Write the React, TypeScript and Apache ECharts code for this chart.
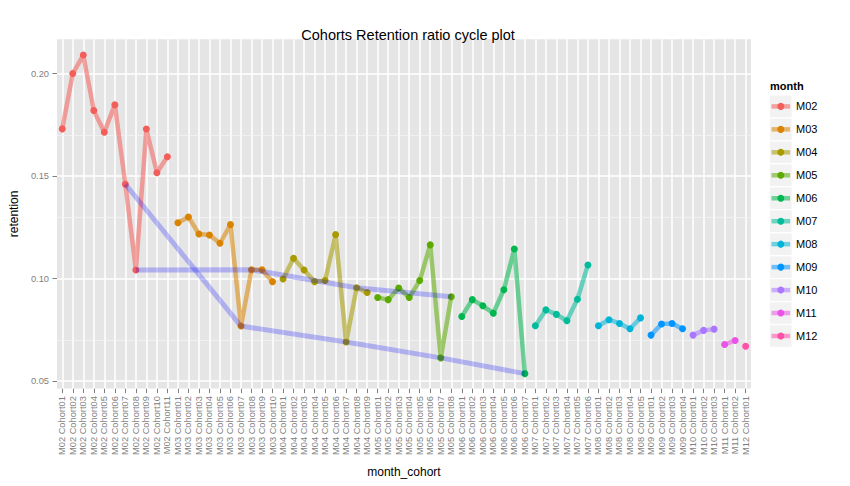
import React, { useEffect, useRef } from "react";
import * as echarts from "echarts";

const months = ["M02", "M03", "M04", "M05", "M06", "M07", "M08", "M09", "M10", "M11", "M12"];

const M02 = [0.173, 0.2, 0.209, 0.182, 0.1714, 0.1847, 0.146, 0.1042, 0.1729, 0.1516, 0.1594];
const M03 = [0.1272, 0.13, 0.1217, 0.1212, 0.1172, 0.1263, 0.0768, 0.1043, 0.1043, 0.0984];
const M04 = [0.0998, 0.1099, 0.1042, 0.0985, 0.099, 0.1214, 0.069, 0.0955, 0.0932];
const M05 = [0.0907, 0.0897, 0.0954, 0.0907, 0.099, 0.1164, 0.0613, 0.0911];
const M06 = [0.0815, 0.0897, 0.0867, 0.0831, 0.0945, 0.1144, 0.0536];
const M07 = [0.077, 0.0847, 0.0825, 0.0794, 0.0899, 0.1066];
const M08 = [0.077, 0.0799, 0.0781, 0.0755, 0.0808];
const M09 = [0.0724, 0.0778, 0.0781, 0.0755];
const M10 = [0.0724, 0.0747, 0.0753];
const M11 = [0.0678, 0.0698];
const M12 = [0.067];

const monthValues = [M02, M03, M04, M05, M06, M07, M08, M09, M10, M11, M12];

const colors = [
  "#F35E5A", "#D98300", "#A89B00", "#5BAA00", "#00B64E", "#00BC9A",
  "#00B4D8", "#0095FF", "#AB77FF", "#EA54E6", "#FF4FA8",
];

// cohorts highlighted across months (Cohort07, Cohort08)
const highlightCohorts = [7, 8];

const yTicks = [0.05, 0.1, 0.15, 0.2];
const yMinorTicks = [0.075, 0.125, 0.175];
const yMin = 0.0463;
const yMax = 0.2167;

const pad = (n: number) => (n < 10 ? "0" + n : "" + n);
const catName = (m: string, i: number) => `${m} Cohort${pad(i + 1)}`;

const categories: string[] = [];
months.forEach((m, mi) => monthValues[mi].forEach((_, i) => categories.push(catName(m, i))));

const FONT = "'Liberation Sans', Arial, Helvetica, sans-serif";

export default function App() {
  const ref = useRef<HTMLDivElement>(null);
  useEffect(() => {
    if (!ref.current) return;
    const chart = echarts.init(ref.current, undefined, { renderer: "svg" });

    const gridLeft = 55.3;
    const gridWidth = 695.6;
    const gridTop = 39.3;
    const gridBottom = 97.4;

    const monthSeries = months.map((m, mi) => ({
      type: "line",
      name: m,
      z: 3,
      data: monthValues[mi].map((v, i) => [catName(m, i), v]),
      symbol: "circle",
      symbolSize: 7,
      itemStyle: { color: colors[mi], opacity: 1 },
      lineStyle: { color: colors[mi], width: 4.5, opacity: 0.55 },
      emphasis: { disabled: true },
      silent: true,
    }));

    const blueSeries = highlightCohorts.map((c) => {
      const pts: [string, number][] = [];
      months.forEach((m, mi) => {
        if (monthValues[mi].length >= c) pts.push([catName(m, c - 1), monthValues[mi][c - 1]]);
      });
      return {
        type: "line",
        name: "Cohort" + pad(c),
        z: 4,
        data: pts,
        symbol: "none",
        lineStyle: { color: "rgba(0,0,255,0.24)", width: 5 },
        emphasis: { disabled: true },
        silent: true,
      };
    });

    const gridSeries = {
      type: "line",
      name: "grid",
      z: 1,
      data: [],
      silent: true,
      markLine: {
        silent: true,
        z: 1,
        symbol: ["none", "none"],
        label: { show: false },
        emphasis: { disabled: true },
        animation: false,
        data: [
          ...categories.map((c) => ({ xAxis: c, lineStyle: { color: "#ffffff", width: 1.5, type: "solid", opacity: 1 } })),
          ...yMinorTicks.map((v) => ({ yAxis: v, lineStyle: { color: "#F2F2F2", width: 0.8, type: "solid", opacity: 1 } })),
          ...yTicks.map((v) => ({ yAxis: v, lineStyle: { color: "#ffffff", width: 1.5, type: "solid", opacity: 1 } })),
        ],
      },
    };

    const keyTop = 95.6;
    const keyStep = 22.96;
    const legendChildren: any[] = [
      {
        type: "text",
        x: 770,
        y: 86,
        style: { text: "month", fontFamily: FONT, fontSize: 11, fontWeight: "bold", fill: "#000", verticalAlign: "middle" },
      },
    ];
    months.forEach((m, i) => {
      const cy = keyTop + i * keyStep + 10.8;
      legendChildren.push(
        { type: "rect", shape: { x: 770, y: keyTop + i * keyStep, width: 21.6, height: 21.6 }, style: { fill: "#F2F2F2" } },
        { type: "line", shape: { x1: 771.5, y1: cy, x2: 790.1, y2: cy }, style: { stroke: colors[i], lineWidth: 4.5, opacity: 0.55 } },
        { type: "circle", shape: { cx: 780.8, cy, r: 3.5 }, style: { fill: colors[i] } },
        { type: "text", x: 796, y: cy, style: { text: m, fontFamily: FONT, fontSize: 11, fill: "#000", verticalAlign: "middle" } }
      );
    });

    chart.setOption({
      animation: false,
      backgroundColor: "#ffffff",
      textStyle: { fontFamily: FONT },
      title: {
        text: "Cohorts Retention ratio cycle plot",
        left: gridLeft + gridWidth / 2,
        top: 22,
        textAlign: "center",
        textStyle: { fontFamily: FONT, fontSize: 14.5, fontWeight: "normal", color: "#000" },
      },
      grid: {
        left: gridLeft,
        width: gridWidth,
        top: gridTop,
        bottom: gridBottom,
        show: true,
        backgroundColor: "#E5E5E5",
        borderWidth: 0,
        containLabel: false,
      },
      xAxis: {
        type: "category",
        data: categories,
        boundaryGap: true,
        name: "month_cohort",
        nameLocation: "middle",
        nameGap: 77,
        nameTextStyle: { fontFamily: FONT, fontSize: 12, color: "#000" },
        axisLine: { show: false },
        axisTick: { show: true, alignWithLabel: true, length: 4.5, interval: 0, lineStyle: { color: "#7F7F7F", width: 1 } },
        axisLabel: { interval: 0, rotate: 90, fontSize: 9.3, color: "#7F7F7F", margin: 7.5, fontFamily: FONT },
        splitLine: { show: false },
      },
      yAxis: {
        type: "value",
        min: yMin,
        max: yMax,
        name: "retention",
        nameLocation: "middle",
        nameRotate: 90,
        nameGap: 37,
        nameTextStyle: { fontFamily: FONT, fontSize: 12, color: "#000" },
        axisLine: { show: false },
        axisTick: { show: true, length: 4.5, customValues: yTicks, lineStyle: { color: "#7F7F7F", width: 1 } },
        axisLabel: {
          fontSize: 9.3,
          color: "#7F7F7F",
          margin: 8,
          fontFamily: FONT,
          customValues: yTicks,
          formatter: (v: number) => v.toFixed(2),
        },
        splitLine: { show: false },
        minorSplitLine: { show: false },
      },
      graphic: [{ type: "group", children: legendChildren }],
      series: [gridSeries, ...monthSeries, ...blueSeries],
    });

    return () => chart.dispose();
  }, []);

  return <div ref={ref} style={{ position: "fixed", left: 0, top: 0, width: 850, height: 486 }} />;
}
